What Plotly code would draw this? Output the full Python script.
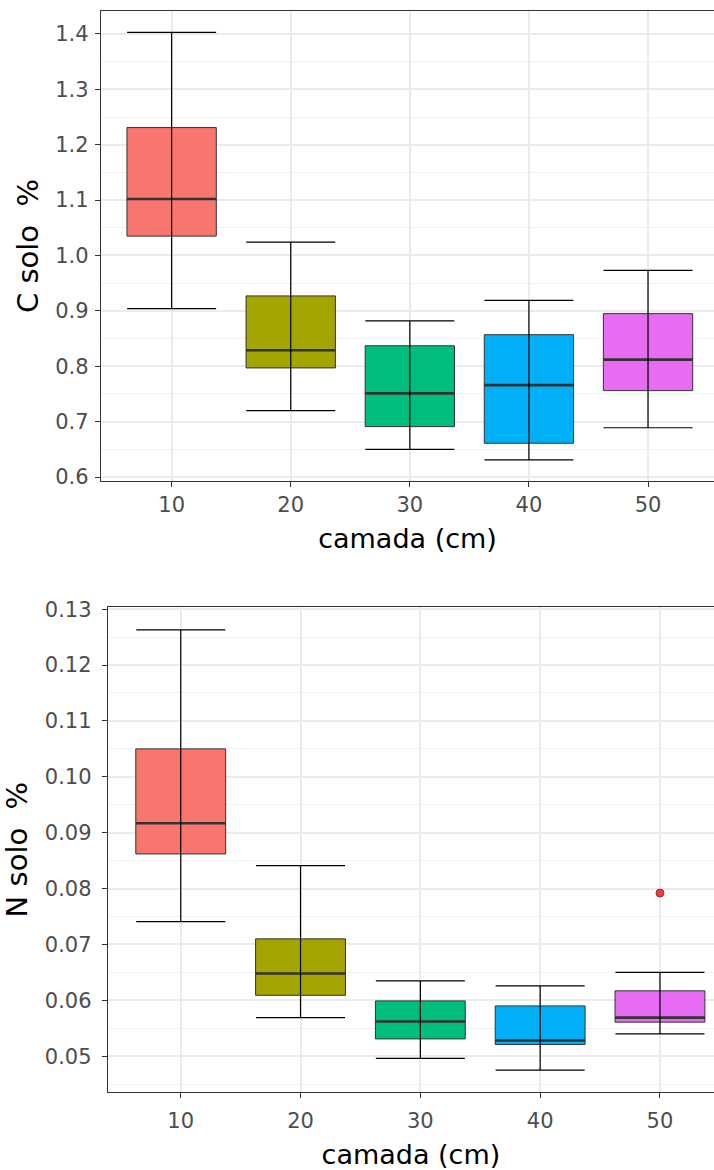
import plotly.graph_objects as go

# ---- data ----
camadas = ["10", "20", "30", "40", "50"]
colors = ["#F8766D", "#A3A500", "#00BF7D", "#00B0F6", "#E76BF3"]

c_low = [0.904, 0.720, 0.650, 0.631, 0.689]
c_q1 = [1.035, 0.797, 0.691, 0.661, 0.756]
c_med = [1.102, 0.829, 0.751, 0.766, 0.812]
c_q3 = [1.231, 0.927, 0.837, 0.857, 0.895]
c_high = [1.403, 1.024, 0.882, 0.919, 0.973]

n_low = [0.0741, 0.0569, 0.0496, 0.0475, 0.0540]
n_q1 = [0.0862, 0.0609, 0.0531, 0.0521, 0.0561]
n_med = [0.0917, 0.0648, 0.0562, 0.0528, 0.0569]
n_q3 = [0.1050, 0.0710, 0.0599, 0.0590, 0.0617]
n_high = [0.1263, 0.0841, 0.0635, 0.0626, 0.0650]

n_out_x = ["50"]
n_out_y = [0.0792]

BOXW = 0.75
FONT = "DejaVu Sans"

fig = go.Figure()


def add_panel(low, q1, med, q3, high, xa, ya):
    pos = list(range(len(camadas)))
    for i, cat in enumerate(camadas):
        fig.add_trace(go.Box(
            x=[pos[i]], q1=[q1[i]], median=[med[i]], q3=[q3[i]],
            lowerfence=[q1[i]], upperfence=[q3[i]],
            width=BOXW, whiskerwidth=0,
            fillcolor=colors[i], line=dict(color="#333333", width=1),
            xaxis=xa, yaxis=ya, showlegend=False, boxpoints=False,
        ))
    # thick median lines
    mx, my = [], []
    for i in pos:
        mx += [i - BOXW / 2, i + BOXW / 2, None]
        my += [med[i], med[i], None]
    fig.add_trace(go.Scatter(x=mx, y=my, mode="lines",
                             line=dict(color="#333333", width=2.6),
                             xaxis=xa, yaxis=ya, showlegend=False,
                             hoverinfo="skip"))
    # errorbar whiskers (through the box)
    fig.add_trace(go.Scatter(
        x=pos, y=med, mode="markers",
        marker=dict(size=1, color="rgba(0,0,0,0)"),
        error_y=dict(type="data", symmetric=False,
                     array=[h - m for h, m in zip(high, med)],
                     arrayminus=[m - l for m, l in zip(med, low)],
                     color="#000000", thickness=1.2, width=44.5),
        xaxis=xa, yaxis=ya, showlegend=False, hoverinfo="skip"))


add_panel(c_low, c_q1, c_med, c_q3, c_high, "x", "y")
add_panel(n_low, n_q1, n_med, n_q3, n_high, "x2", "y2")

fig.add_trace(go.Scatter(
    x=[camadas.index(v) for v in n_out_x], y=n_out_y, mode="markers",
    marker=dict(size=8, color="#EE3B3B", line=dict(color="#8B1A1A", width=0.8)),
    xaxis="x2", yaxis="y2", showlegend=False))

axis_common = dict(
    showline=True, linecolor="#333333", linewidth=1.3,
    ticks="outside", ticklen=5, tickcolor="#333333", tickwidth=1.2,
    tickfont=dict(family=FONT, size=21, color="#4D4D4D"),
    gridcolor="#EBEBEB", gridwidth=1.6, zeroline=False,
)

xcommon = dict(axis_common, tickmode="array", tickvals=list(range(5)),
               ticktext=camadas, mirror=True)

fig.update_layout(
    width=714, height=1170,
    margin=dict(l=0, r=0, t=0, b=0, autoexpand=False),
    paper_bgcolor="white", plot_bgcolor="white",
    font=dict(family=FONT),
    xaxis=dict(xcommon, domain=[0.14146, 1], range=[-0.593, 4.554], anchor="y",
               title=dict(text="camada (cm)", font=dict(family=FONT, size=27, color="black"),
                          standoff=12)),
    yaxis=dict(axis_common, domain=[0.58889, 0.9906], range=[0.5928, 1.4415],
               anchor="x", tickmode="linear", tick0=0.6, dtick=0.1, tickformat=".1f",
               ticklabelstandoff=2,
               minor=dict(dtick=0.05, tick0=0.6, showgrid=True, gridcolor="#F2F2F2",
                          gridwidth=1.0, ticks=""),
               title=dict(text="C solo\u00a0 %", font=dict(family=FONT, size=29, color="black"),
                          standoff=8)),
    xaxis2=dict(xcommon, domain=[0.1511, 1], range=[-0.608, 4.451], anchor="y2",
                ticklabelstandoff=5,
                title=dict(text="camada (cm)", font=dict(family=FONT, size=27, color="black"),
                           standoff=15)),
    yaxis2=dict(axis_common, domain=[0.06692, 0.48077], range=[0.04365, 0.1303],
                anchor="x2", tickmode="linear", tick0=0.05, dtick=0.01, tickformat=".2f",
                ticklabelstandoff=6,
                minor=dict(dtick=0.005, tick0=0.05, showgrid=True, gridcolor="#F2F2F2",
                           gridwidth=1.0, ticks=""),
                title=dict(text="N solo\u00a0 %", font=dict(family=FONT, size=29, color="black"),
                           standoff=12)),
)

fig.write_html("out.html")
